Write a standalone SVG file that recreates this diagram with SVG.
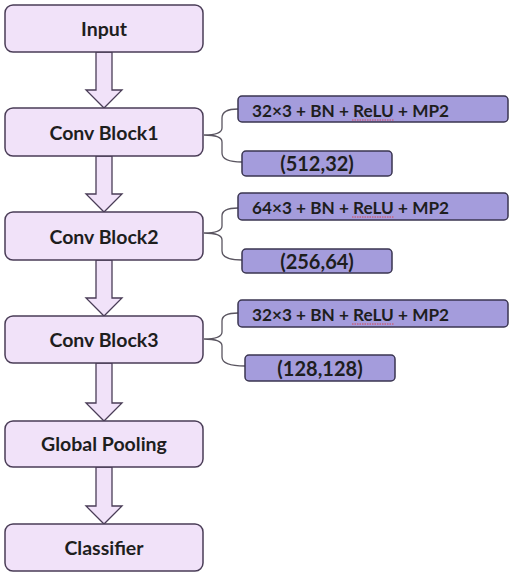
<svg xmlns="http://www.w3.org/2000/svg" width="512" height="576" viewBox="0 0 512 576">
<style>
.main{fill:#f1e2f9;stroke:#4a3d57;stroke-width:1.5}
.side{fill:#a49cdc;stroke:#3a3550;stroke-width:1.5}
.arr{fill:#f1e2f9;stroke:#4a3d57;stroke-width:1.3;stroke-linejoin:miter}
.brace{fill:none;stroke:#5a5560;stroke-width:1.3}
.mt{font-family:Lato,"Open Sans",sans-serif;font-weight:bold;font-size:19.5px;fill:#1e1e1e;text-anchor:middle}
.st{font-family:Lato,"Open Sans",sans-serif;font-weight:bold;font-size:17.2px;fill:#1e1e1e}
.sc{font-family:Lato,"Open Sans",sans-serif;font-weight:bold;font-size:20px;fill:#1e1e1e;text-anchor:middle}
.sq{fill:none;stroke:#e03030;stroke-width:0.8;stroke-dasharray:1.5 1}
</style>
<rect width="512" height="576" fill="#ffffff"/>
<g id="connectors">
<path class="arr" d="M96,52 L112,52 L112,90 L122,90 L104,108 L86,90 L96,90 Z"/>
<path class="arr" d="M96,156 L112,156 L112,194 L122,194 L104,212 L86,194 L96,194 Z"/>
<path class="arr" d="M96,260 L112,260 L112,298 L122,298 L104,316 L86,298 L96,298 Z"/>
<path class="arr" d="M96,363 L112,363 L112,403 L122,403 L104,421 L86,403 L96,403 Z"/>
<path class="arr" d="M96,467 L112,467 L112,506 L122,506 L104,524 L86,506 L96,506 Z"/>
<path class="brace" d="M238,109 Q222,109 222,118 V128 Q222,135 204,135 Q222,135 222,142 V153 Q222,162 242,162"/>
<path class="brace" d="M238,208 Q222,208 222,216 V226 Q222,233 204,233 Q222,233 222,240 V251 Q222,260 242,260"/>
<path class="brace" d="M238,313 Q222,313 222,321 V332 Q222,339 204,339 Q222,339 222,346 V357 Q222,366 245,366"/>
</g>
<g id="input"><rect class="main" x="5" y="5" width="198" height="47" rx="8"/><text class="mt" x="104" y="36">Input</text></g>
<g id="conv1"><rect class="main" x="5" y="108" width="198" height="48" rx="8"/><text class="mt" x="104" y="140">Conv Block1</text></g>
<g id="conv2"><rect class="main" x="5" y="212" width="198" height="48" rx="8"/><text class="mt" x="104" y="244">Conv Block2</text></g>
<g id="conv3"><rect class="main" x="5" y="316" width="198" height="47" rx="8"/><text class="mt" x="104" y="347">Conv Block3</text></g>
<g id="gpool"><rect class="main" x="5" y="421" width="198" height="46" rx="8"/><text class="mt" x="104" y="451">Global Pooling</text></g>
<g id="classifier"><rect class="main" x="5" y="524" width="198" height="47" rx="8"/><text class="mt" x="104" y="555">Classifier</text></g>
<g id="op1"><rect class="side" x="238" y="96" width="270" height="26" rx="4"/><text class="st" x="252" y="117">32×3 + BN + ReLU + MP2</text><path class="sq" d="M352,120 H394"/></g>
<g id="shape1"><rect class="side" x="242" y="151" width="150" height="25" rx="4"/><text class="sc" x="317" y="171">(512,32)</text></g>
<g id="op2"><rect class="side" x="238" y="193" width="270" height="27" rx="4"/><text class="st" x="252" y="214">64×3 + BN + ReLU + MP2</text><path class="sq" d="M352,217 H394"/></g>
<g id="shape2"><rect class="side" x="242" y="249" width="150" height="24" rx="4"/><text class="sc" x="317" y="269">(256,64)</text></g>
<g id="op3"><rect class="side" x="238" y="300" width="270" height="27" rx="4"/><text class="st" x="252" y="321">32×3 + BN + ReLU + MP2</text><path class="sq" d="M352,324 H394"/></g>
<g id="shape3"><rect class="side" x="245" y="355" width="150" height="26" rx="4"/><text class="sc" x="320" y="376">(128,128)</text></g>
</svg>
